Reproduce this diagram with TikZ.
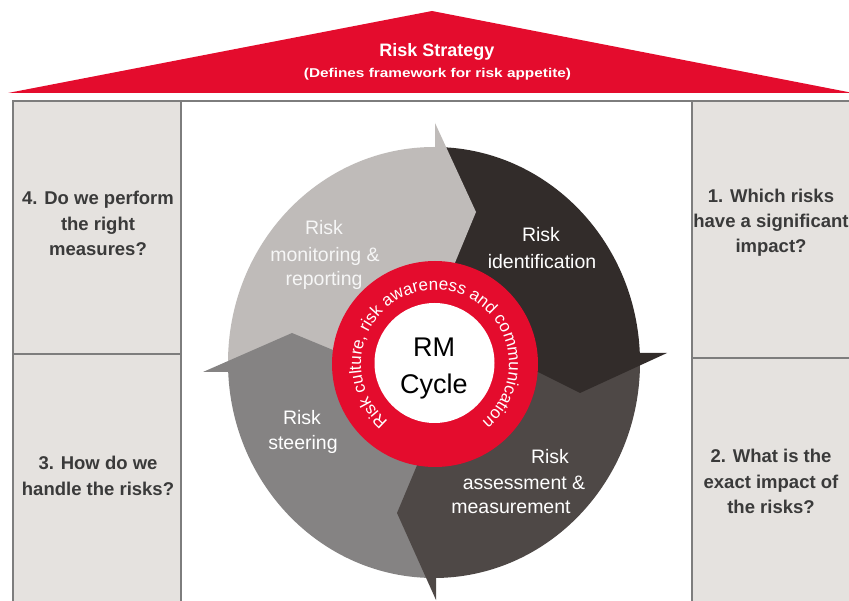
\documentclass[tikz,border=0pt]{standalone}
\usepackage{fontspec}
\setmainfont{Liberation Sans}
\newfontfamily\subfont[FakeStretch=1.2]{Liberation Sans}
\usetikzlibrary{decorations.text}
\definecolor{rmred}{RGB}{228,12,45}
\definecolor{panelfill}{RGB}{229,226,223}
\definecolor{panelline}{RGB}{125,125,125}
\definecolor{boxtxt}{RGB}{58,58,58}
\definecolor{segA}{RGB}{191,187,185}
\definecolor{segB}{RGB}{50,44,42}
\definecolor{segC}{RGB}{78,72,70}
\definecolor{segD}{RGB}{133,131,131}
\definecolor{lighttxt}{RGB}{246,246,246}
\tikzset{
  panel/.style={fill=panelfill, draw=panelline, line width=1.5pt},
  centerpanel/.style={fill=white, draw=panelline, line width=1.5pt},
  boxtext/.style={anchor=base, inner sep=0pt, text=boxtxt, font=\bfseries\fontsize{18.5}{20}\selectfont},
  seglabel/.style={anchor=base, inner sep=0pt, text=white, font=\fontsize{19.5}{22}\selectfont},
  cyclelabel/.style={anchor=base, inner sep=0pt, text=black, font=\fontsize{27}{30}\selectfont}
}
\begin{document}
\begin{tikzpicture}[x=1pt,y=1pt]
\useasboundingbox (0,0) rectangle (849,-601);
\begin{scope}
\clip (0,0) rectangle (849,-601);
% roof
\fill[rmred] (432,-11) -- (853,-93) -- (8,-93) -- cycle;
\node[anchor=base, inner sep=0pt, text=white, font=\bfseries\fontsize{18}{20}\selectfont] (title) at (437,-57) {Risk Strategy};
\node[anchor=base, inner sep=0pt, text=white, font=\subfont\bfseries\fontsize{12.8}{14}\selectfont] (subtitle) at (437.5,-78) {(Defines framework for risk appetite)};
% panels
\draw[centerpanel] (181,-101) rectangle (692,-640);
\draw[panel] (13,-101) rectangle (181,-354);
\draw[panel] (13,-354) rectangle (181,-640);
\draw[panel] (692,-101) rectangle (880,-358);
\draw[panel] (692,-358) rectangle (880,-640);
% panel texts
\node[boxtext] (q4a) at (98,-205) {4. Do we perform};
\node[boxtext] (q4b) at (98,-231) {the right};
\node[boxtext] (q4c) at (98,-256) {measures?};
\node[boxtext] (q3a) at (98,-470) {3. How do we};
\node[boxtext] (q3b) at (98,-496) {handle the risks?};
\node[boxtext] (q1a) at (771,-203) {1. Which risks};
\node[boxtext] (q1b) at (771,-228) {have a significant};
\node[boxtext] (q1c) at (771,-253) {impact?};
\node[boxtext] (q2a) at (771,-462) {2. What is the};
\node[boxtext] (q2b) at (771,-488) {exact impact of};
\node[boxtext] (q2c) at (771,-513) {the risks?};
% cycle segments
\coordinate (hub) at (435,-362.5);
\begin{scope}
\clip (434,-362.5) ellipse [x radius=206, y radius=215.5];
\fill[segA] (hub) -- (435,-123) -- (203,-123) -- (203,-372) -- cycle;
\fill[segB] (hub) -- (435,-123) -- (667,-123) -- (667,-353) -- cycle;
\fill[segC] (hub) -- (667,-353) -- (667,-600) -- (436,-600) -- cycle;
\fill[segD] (hub) -- (436,-600) -- (203,-600) -- (203,-372) -- cycle;
\end{scope}
% arrow heads
\fill[segA] (435,-123) -- (476,-212) -- (435,-311) -- cycle;
\fill[segB] (667,-353) -- (580,-393) -- (500,-353) -- cycle;
\fill[segC] (436,-600) -- (397,-513) -- (436,-420) -- cycle;
\fill[segD] (203,-372) -- (292,-333) -- (386,-372) -- cycle;
% segment labels
\node[seglabel, text=lighttxt] (monA) at (324,-235) {Risk};
\node[seglabel, text=lighttxt] (monB) at (325,-261.5) {monitoring \&};
\node[seglabel, text=lighttxt] (monC) at (324,-286) {reporting};
\node[seglabel] (idA) at (541,-242) {Risk};
\node[seglabel] (idB) at (542,-269) {identification};
\node[seglabel] (asA) at (550,-463.5) {Risk};
\node[seglabel] (asB) at (524,-489.5) {assessment \&};
\node[seglabel] (asC) at (511,-513.5) {measurement};
\node[seglabel] (stA) at (302,-424.5) {Risk};
\node[seglabel] (stB) at (303,-449.5) {steering};
% ring
\coordinate (ringc) at (435,-364);
\fill[rmred] (ringc) circle [radius=103];
\fill[white] (434.5,-363) circle [radius=60];
\path[decorate, decoration={text along path, text align=center,
  text={|\fontsize{17}{18}\selectfont\color{white}|Risk culture, risk awareness and communication}}]
  ([shift={(231:74)}]ringc) arc [start angle=231, end angle=-51, radius=74];
\node[cyclelabel] (rm) at (434,-357) {RM};
\node[cyclelabel] (cyc) at (434,-394) {Cycle};
\end{scope}
\end{tikzpicture}
\end{document}
